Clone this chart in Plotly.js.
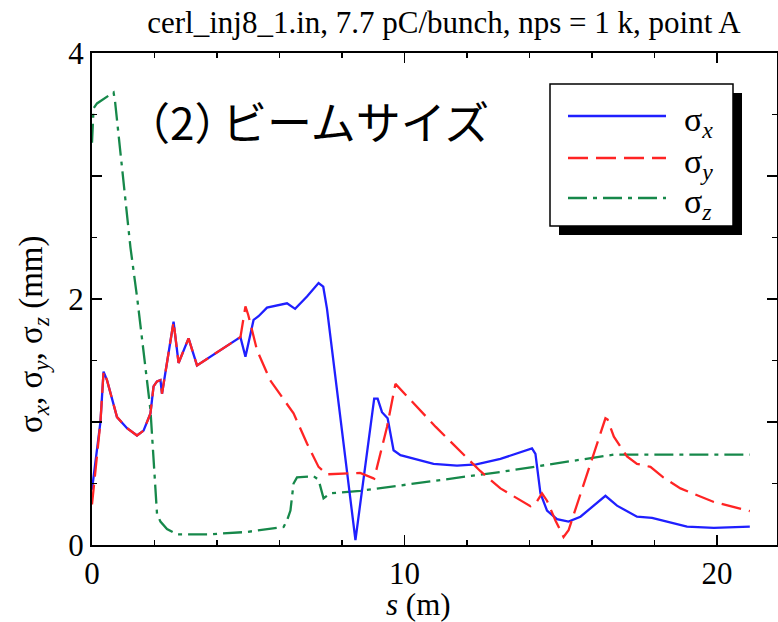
<!DOCTYPE html>
<html>
<head>
<meta charset="utf-8">
<script src="https://cdn.plot.ly/plotly-3.0.1.min.js"></script>
<style>html,body{margin:0;padding:0;background:#fff;}#chart{width:778px;height:622px;}</style>
</head>
<body>
<div id="chart"></div>
<script>
// s (m) and beam sizes (mm)
const sX = [0, 0.12, 0.27, 0.37, 0.48, 0.8, 1.12, 1.44, 1.65, 1.87, 1.97, 2.08, 2.19, 2.24, 2.4, 2.61, 2.77, 3.09, 3.36, 4.75, 4.91, 5.05, 5.17, 5.33, 5.6, 6.24, 6.5, 6.88, 7.25, 7.4, 7.52, 8.43, 9.03, 9.14, 9.28, 9.46, 9.65, 9.87, 10.93, 11.68, 12.3, 13.07, 14.08, 14.19, 14.35, 14.56, 14.88, 15.25, 15.63, 16.43, 16.8, 17.44, 17.92, 18.4, 19.04, 19.9, 21.05];
const sigmaX = [0.45, 0.7, 1.0, 1.41, 1.34, 1.04, 0.95, 0.89, 0.93, 1.07, 1.29, 1.33, 1.34, 1.23, 1.5, 1.815, 1.48, 1.68, 1.46, 1.69, 1.53, 1.7, 1.83, 1.86, 1.93, 1.965, 1.92, 2.02, 2.13, 2.1, 1.92, 0.04, 1.19, 1.19, 1.08, 1.03, 0.77, 0.73, 0.66, 0.645, 0.655, 0.70, 0.785, 0.74, 0.42, 0.28, 0.21, 0.19, 0.23, 0.40, 0.32, 0.23, 0.22, 0.19, 0.15, 0.14, 0.15];

const sY = [0, 0.12, 0.27, 0.37, 0.48, 0.8, 1.12, 1.44, 1.65, 1.87, 1.97, 2.08, 2.19, 2.24, 2.4, 2.61, 2.77, 3.09, 3.36, 4.75, 4.91, 5.0, 5.28, 5.7, 6.45, 6.88, 7.25, 7.52, 8.58, 9.03, 9.44, 9.71, 11.0, 12.43, 13.07, 14.03, 14.2, 14.4, 14.56, 14.83, 15.09, 15.25, 16.43, 16.5, 16.7, 17.12, 17.44, 17.87, 18.28, 18.83, 19.9, 21.05];
const sigmaY = [0.33, 0.65, 1.0, 1.41, 1.34, 1.04, 0.95, 0.89, 0.93, 1.07, 1.29, 1.33, 1.34, 1.23, 1.5, 1.815, 1.48, 1.68, 1.46, 1.69, 1.94, 1.87, 1.585, 1.34, 1.07, 0.825, 0.635, 0.575, 0.586, 0.54, 0.96, 1.31, 0.96, 0.6, 0.46, 0.315, 0.34, 0.42, 0.36, 0.2, 0.065, 0.12, 1.03, 1.02, 0.88, 0.72, 0.66, 0.635, 0.55, 0.46, 0.35, 0.275];

const sZ = [0, 0.05, 0.16, 0.69, 0.74, 1.23, 1.45, 1.87, 2.08, 2.19, 2.4, 2.72, 3.78, 4.95, 6.13, 6.24, 6.35, 6.45, 6.56, 7.09, 7.25, 7.41, 7.63, 8.58, 13.07, 15.95, 16.7, 21.05];
const sigmaZ = [3.27, 3.55, 3.59, 3.68, 3.6, 2.42, 2.0, 1.1, 0.255, 0.19, 0.13, 0.087, 0.087, 0.106, 0.147, 0.2, 0.28, 0.5, 0.55, 0.56, 0.53, 0.38, 0.42, 0.44, 0.594, 0.71, 0.735, 0.735];

const yLabelVals = [0, 2, 4];        // labelled major ticks
const yUnlabelledVals = [1, 3];      // long ticks without labels
const xTickVals = [0, 10, 20];

const legendNames = ['σ<sub><i>x</i></sub>', 'σ<sub><i>y</i></sub>', 'σ<sub><i>z</i></sub>'];
const colors = ['#1f1fff', '#ff2424', '#16884a'];
const dashes = ['solid', '20px,8px', '19px,6px,4px,6px'];

const serif = 'Liberation Serif, Times New Roman, serif';

const traces = [
  {x: sX, y: sigmaX, name: legendNames[0]},
  {x: sY, y: sigmaY, name: legendNames[1]},
  {x: sZ, y: sigmaZ, name: legendNames[2]}
].map((t, i) => Object.assign(t, {
  type: 'scatter', mode: 'lines', showlegend: false,
  line: {color: colors[i], width: 2.3, dash: dashes[i]}
}));

const data = [traces[2], traces[0], traces[1]];
// invisible carrier trace for the secondary (tick-only) y axis
data.push({x: [0], y: [0], yaxis: 'y2', mode: 'markers', marker: {opacity: 0}, showlegend: false, hoverinfo: 'skip'});

// pixel -> paper helpers for decorations
const L = 92, R = 1, T = 53, B = 77, W = 778, H = 622;
const pw = W - L - R, ph = H - T - B;
const px = v => (v - L) / pw;
const py = v => (H - B - v) / ph;

const shapes = [
  {type: 'rect', xref: 'paper', yref: 'paper', x0: px(559), x1: px(742), y0: py(235), y1: py(93), fillcolor: '#000', line: {width: 0}},
  {type: 'rect', xref: 'paper', yref: 'paper', x0: px(550), x1: px(733), y0: py(226), y1: py(84), fillcolor: '#fff', line: {color: '#000', width: 1.5}}
];
const legendY = [116, 158, 198];
legendY.forEach((ly, i) => {
  shapes.push({type: 'line', xref: 'paper', yref: 'paper', x0: px(568), x1: px(666), y0: py(ly), y1: py(ly),
    line: {color: colors[i], width: 2.3, dash: dashes[i]}});
});

const annotations = legendY.map((ly, i) => ({
  xref: 'paper', yref: 'paper', x: px(682), y: py(ly + 6), xanchor: 'left', yanchor: 'middle',
  text: legendNames[i], showarrow: false, font: {family: serif, size: 34, color: '#000'}
}));
annotations.push({
  xref: 'paper', yref: 'paper', x: px(124), y: py(121), xanchor: 'left', yanchor: 'middle',
  width: 94, align: 'left',
  text: '（2）', showarrow: false, font: {family: 'Noto Sans CJK JP', size: 44, color: '#000'}
});
annotations.push({
  xref: 'paper', yref: 'paper', x: px(220), y: py(121), xanchor: 'left', yanchor: 'middle',
  text: 'ビームサイズ', showarrow: false, font: {family: 'Noto Sans CJK JP', size: 45, color: '#000'}
});
annotations.push({
  xref: 'paper', yref: 'paper', x: px(33), y: py(334), xanchor: 'center', yanchor: 'middle', textangle: -90,
  text: 'σ<sub><i>x</i></sub>, σ<sub><i>y</i></sub>, σ<sub><i>z</i></sub> (mm)', showarrow: false,
  font: {family: serif, size: 33, color: '#000'}
});
annotations.push({
  xref: 'paper', yref: 'paper', x: px(418), y: py(604), xanchor: 'center', yanchor: 'middle',
  text: '<i>s</i> (m)', showarrow: false, font: {family: serif, size: 31, color: '#000'}
});

const tickCommon = {
  showgrid: false, zeroline: false,
  showline: true, linecolor: '#000', linewidth: 2, mirror: 'ticks',
  ticks: 'inside', ticklen: 10, tickwidth: 1.5, tickcolor: '#000',
  tickfont: {family: serif, size: 31, color: '#000'}
};

const layout = {
  width: W, height: H,
  margin: {l: L, r: R, t: T, b: B, pad: 0},
  paper_bgcolor: '#fff', plot_bgcolor: '#fff',
  title: {text: 'cerl_inj8_1.in, 7.7 pC/bunch, nps = 1 k, point A', font: {family: serif, size: 31, color: '#000'},
    xref: 'container', yref: 'container', x: 444 / W, y: 1 - 22 / H, xanchor: 'center', yanchor: 'middle'},
  xaxis: Object.assign({}, tickCommon, {
    range: [0, 21.92], tickmode: 'array', tickvals: xTickVals,
    minor: {dtick: 2, tick0: 0, ticks: 'inside', ticklen: 5, tickwidth: 1.5, tickcolor: '#000'}
  }),
  yaxis: Object.assign({}, tickCommon, {
    range: [0, 4], tickmode: 'array', tickvals: yLabelVals,
    minor: {dtick: 0.5, tick0: 0, ticks: 'inside', ticklen: 5, tickwidth: 1.5, tickcolor: '#000'}
  }),
  yaxis2: Object.assign({}, tickCommon, {
    range: [0, 4], overlaying: 'y', side: 'left', tickmode: 'array', tickvals: yUnlabelledVals,
    showticklabels: false, showline: false
  }),
  shapes: shapes,
  annotations: annotations
};

Plotly.newPlot('chart', data, layout, {displayModeBar: false, staticPlot: true});
</script>
</body>
</html>
